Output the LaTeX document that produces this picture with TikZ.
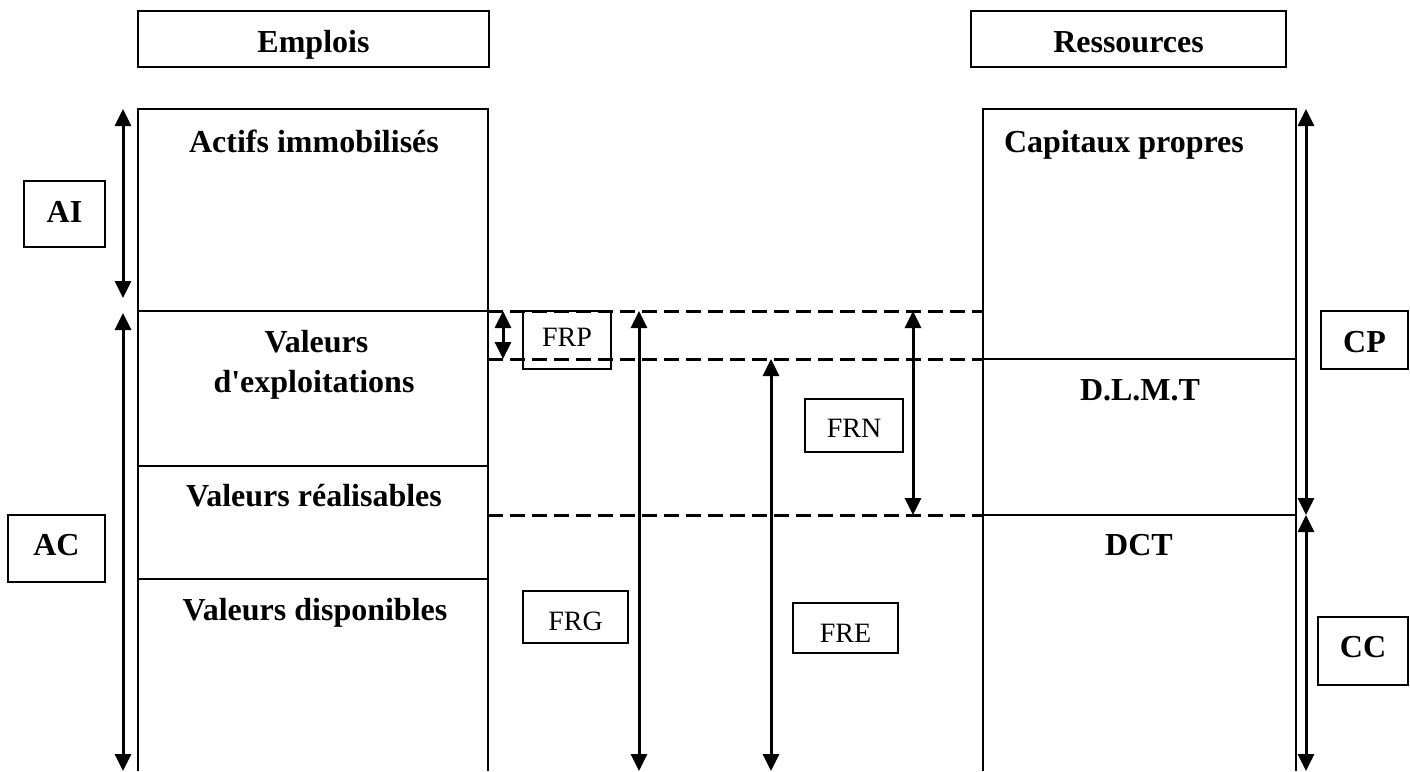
\documentclass[tikz,border=0pt]{standalone}
\usepackage{fontspec}
\setmainfont{Liberation Serif}
\usetikzlibrary{arrows.meta}

\tikzset{
  frame/.style={draw, line width=1.8pt},
  head/.style={frame, rectangle, inner sep=0pt, font=\fontsize{32}{38}\selectfont\bfseries},
  tag/.style={frame, rectangle, inner sep=0pt, font=\fontsize{28}{34}\selectfont},
  title/.style={inner sep=0pt, anchor=base, font=\fontsize{32}{38}\selectfont\bfseries},
  span/.style={line width=3pt, {Triangle[length=17pt,width=16pt]}-{Triangle[length=17pt,width=16pt]}},
  limit/.style={line width=3pt, dash pattern=on 15pt off 7pt},
  rule/.style={line width=1.8pt}
}

\begin{document}
\begin{tikzpicture}[x=1pt,y=-1pt]
\useasboundingbox (0,0) rectangle (1410,771);

% column headers
\node[head, minimum width=351pt, minimum height=56pt, text height=26pt, text depth=0pt] (emplois) at (313.5,39) {Emplois};
\node[head, minimum width=315pt, minimum height=56pt, text height=26pt, text depth=0pt] (ressources) at (1128.5,39) {Ressources};

% assets column
\draw[rule] (138,771) -- (138,109) -- (488,109) -- (488,771);
\draw[rule] (138,311) -- (488,311);
\draw[rule] (138,466) -- (488,466);
\draw[rule] (138,579) -- (488,579);

% liabilities column
\draw[rule] (983,771) -- (983,109) -- (1296,109) -- (1296,771);
\draw[rule] (983,359) -- (1296,359);
\draw[rule] (983,515) -- (1296,515);

% headings inside the columns
\node[title] (ai-t) at (314,152) {Actifs immobilisés};
\node[title] (ve-t1) at (316.5,352) {Valeurs};
\node[title] (ve-t2) at (314,392) {d\textquotesingle exploitations};
\node[title] (vr-t) at (314,506) {Valeurs réalisables};
\node[title] (vd-t) at (315,620) {Valeurs disponibles};
\node[title] (cp-t) at (1124,152) {Capitaux propres};
\node[title] (dlmt-t) at (1140,400) {D.L.M.T};
\node[title] (dct-t) at (1139,555) {DCT};

% side labels
\node[head, minimum width=81pt, minimum height=66pt, text height=22pt, text depth=6pt] (ai) at (64.5,214) {AI};
\node[head, minimum width=97pt, minimum height=67pt, text height=22pt, text depth=9pt] (ac) at (56.5,548.5) {AC};
\node[head, minimum width=87pt, minimum height=58pt, text height=24pt, text depth=0pt] (cp) at (1364.5,340) {CP};
\node[head, minimum width=90pt, minimum height=68pt, text height=22pt, text depth=10pt] (cc) at (1363,651) {CC};

% working-capital labels
\node[tag, minimum width=88pt, minimum height=58pt, text height=18pt, text depth=6pt] (frp) at (567,340) {FRP};
\node[tag, minimum width=98pt, minimum height=53pt, text height=23pt, text depth=0pt] (frn) at (854,425.5) {FRN};
\node[tag, minimum width=105pt, minimum height=52pt, text height=26pt, text depth=0pt] (frg) at (575.5,617) {FRG};
\node[tag, minimum width=105pt, minimum height=50pt, text height=28pt, text depth=0pt] (fre) at (845.5,628) {FRE};

% level lines between the two columns
\coordinate (l1a) at (488,311); \coordinate (l1b) at (983,311);
\coordinate (l2a) at (488,359); \coordinate (l2b) at (983,359);
\coordinate (l3a) at (488,515); \coordinate (l3b) at (983,515);
\draw[limit] (l1a) -- (l1b);
\draw[limit] (l2a) -- (l2b);
\draw[limit] (l3a) -- (l3b);

% span arrows
\coordinate (ai-top) at (123,109);  \coordinate (ai-bot) at (123,298);
\coordinate (ac-top) at (123,313);  \coordinate (ac-bot) at (123,771);
\coordinate (frp-top) at (503,311); \coordinate (frp-bot) at (503,359);
\coordinate (frg-top) at (639,311); \coordinate (frg-bot) at (639,771);
\coordinate (fre-top) at (771,359); \coordinate (fre-bot) at (771,771);
\coordinate (frn-top) at (913,311); \coordinate (frn-bot) at (913,515);
\coordinate (cp-top) at (1306,109); \coordinate (cp-bot) at (1306,515);
\coordinate (cc-top) at (1306,515); \coordinate (cc-bot) at (1306,771);

\draw[span] (ai-top) -- (ai-bot);
\draw[span] (ac-top) -- (ac-bot);
\draw[span] (frp-top) -- (frp-bot);
\draw[span] (frg-top) -- (frg-bot);
\draw[span] (fre-top) -- (fre-bot);
\draw[span] (frn-top) -- (frn-bot);
\draw[span] (cp-top) -- (cp-bot);
\draw[span] (cc-top) -- (cc-bot);
\end{tikzpicture}
\end{document}
